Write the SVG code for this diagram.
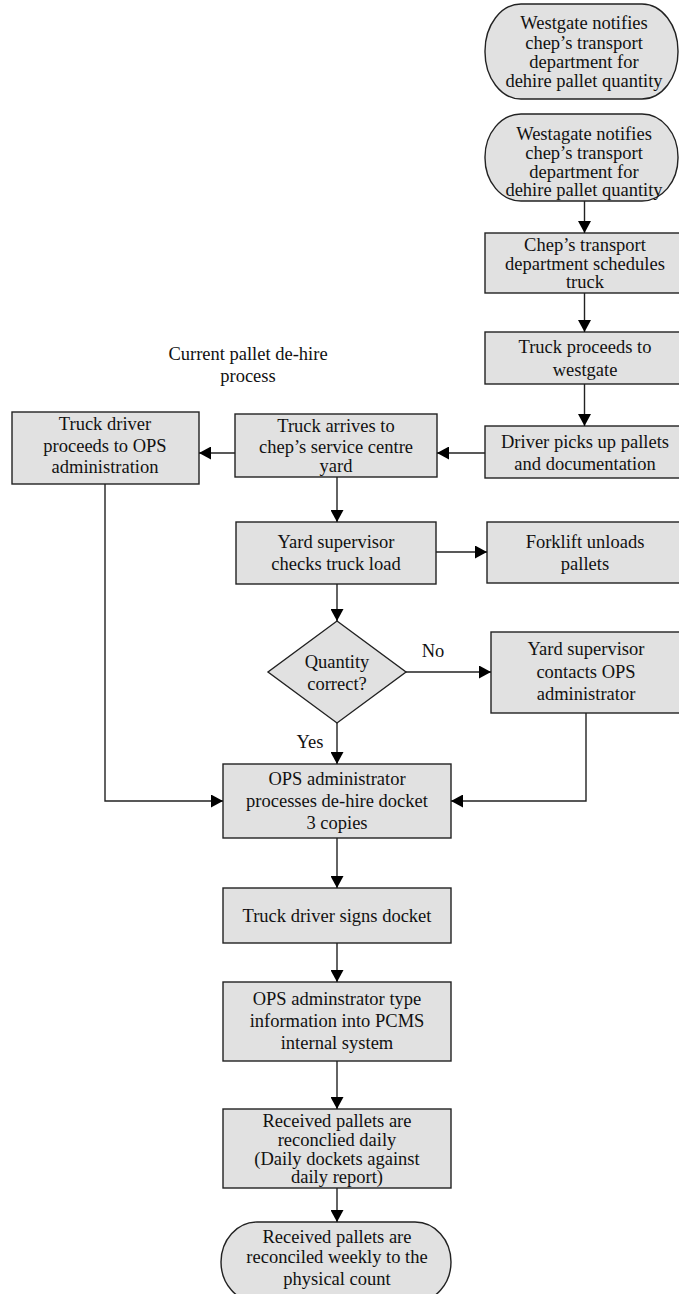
<svg xmlns="http://www.w3.org/2000/svg" width="679" height="1294" viewBox="0 0 679 1294">
<style>
.n{fill:#e1e1e1;stroke:#222;stroke-width:1.4}
.t{font-family:"Liberation Serif","Times New Roman",serif;font-size:18.5px;fill:#111;text-anchor:middle}
.c{fill:none;stroke:#222;stroke-width:1.4}
</style>
<defs>
<marker id="ah" markerWidth="12" markerHeight="13" refX="12" refY="6.5" orient="auto" markerUnits="userSpaceOnUse"><path d="M0,0 L12,6.5 L0,13 z" fill="#000"/></marker>
</defs>
<rect width="679" height="1294" fill="#fff"/>
<text class="t" x="248" y="360">Current pallet de-hire</text>
<text class="t" x="248" y="382">process</text>
<g id="t1"><rect class="n" x="485" y="4" width="193" height="95" rx="36" ry="47"/>
<text class="t" x="584" y="29">Westgate notifies</text><text class="t" x="584" y="49">chep’s transport</text><text class="t" x="584" y="68">department for</text><text class="t" x="584" y="87">dehire pallet quantity</text></g>
<g id="t2"><rect class="n" x="485" y="114" width="193" height="87" rx="36" ry="43"/>
<text class="t" x="584" y="140">Westagate notifies</text><text class="t" x="584" y="159">chep’s transport</text><text class="t" x="584" y="178">department for</text><text class="t" x="584" y="196">dehire pallet quantity</text></g>
<g id="chep"><rect class="n" x="485" y="233" width="199" height="60"/>
<text class="t" x="585" y="251">Chep’s transport</text><text class="t" x="585" y="270">department schedules</text><text class="t" x="585" y="288">truck</text></g>
<g id="proceeds"><rect class="n" x="485" y="332" width="199" height="52"/>
<text class="t" x="585" y="353">Truck proceeds to</text><text class="t" x="585" y="376">westgate</text></g>
<g id="driver"><rect class="n" x="485" y="426" width="199" height="52"/>
<text class="t" x="585" y="448">Driver picks up pallets</text><text class="t" x="585" y="470">and documentation</text></g>
<g id="arrives"><rect class="n" x="235" y="414" width="202" height="63"/>
<text class="t" x="336" y="432">Truck arrives to</text><text class="t" x="336" y="453">chep’s service centre</text><text class="t" x="336" y="472">yard</text></g>
<g id="tdriver"><rect class="n" x="12" y="412" width="187" height="72"/>
<text class="t" x="105" y="430">Truck driver</text><text class="t" x="105" y="452">proceeds to OPS</text><text class="t" x="105" y="473">administration</text></g>
<g id="yardsup"><rect class="n" x="236" y="522" width="200" height="62"/>
<text class="t" x="336" y="548">Yard supervisor</text><text class="t" x="336" y="570">checks truck load</text></g>
<g id="forklift"><rect class="n" x="487" y="522" width="197" height="61"/>
<text class="t" x="585" y="548">Forklift unloads</text><text class="t" x="585" y="570">pallets</text></g>
<g id="decision"><path class="n" d="M337,621 L406,672 L337,723 L268,672 Z"/>
<text class="t" x="337" y="668">Quantity</text><text class="t" x="337" y="690">correct?</text></g>
<g id="contacts"><rect class="n" x="491" y="632" width="193" height="81"/>
<text class="t" x="586" y="655">Yard supervisor</text><text class="t" x="586" y="678">contacts OPS</text><text class="t" x="586" y="700">administrator</text></g>
<g id="ops"><rect class="n" x="223" y="764" width="228" height="74"/>
<text class="t" x="337" y="785">OPS administrator</text><text class="t" x="337" y="807">processes de-hire docket</text><text class="t" x="337" y="829">3 copies</text></g>
<g id="signs"><rect class="n" x="223" y="888" width="228" height="55"/>
<text class="t" x="337" y="922">Truck driver signs docket</text></g>
<g id="type"><rect class="n" x="223" y="982" width="228" height="79"/>
<text class="t" x="337" y="1005">OPS adminstrator type</text><text class="t" x="337" y="1027">information into PCMS</text><text class="t" x="337" y="1049">internal system</text></g>
<g id="daily"><rect class="n" x="223" y="1109" width="228" height="79"/>
<text class="t" x="337" y="1127">Received pallets are</text><text class="t" x="337" y="1146">reconclied daily</text><text class="t" x="337" y="1165">(Daily dockets against</text><text class="t" x="337" y="1183">daily report)</text></g>
<g id="weekly"><rect class="n" x="221" y="1222" width="230" height="80" rx="36" ry="40"/>
<text class="t" x="337" y="1243">Received pallets are</text><text class="t" x="337" y="1263">reconciled weekly to the</text><text class="t" x="337" y="1285">physical count</text></g>
<g id="connectors">
<path class="c" marker-end="url(#ah)" d="M584.5,201 V233"/>
<path class="c" marker-end="url(#ah)" d="M584.5,293 V332"/>
<path class="c" marker-end="url(#ah)" d="M584.5,384 V426"/>
<path class="c" marker-end="url(#ah)" d="M485,453 H437"/>
<path class="c" marker-end="url(#ah)" d="M235,453 H199"/>
<path class="c" marker-end="url(#ah)" d="M337,477 V522"/>
<path class="c" marker-end="url(#ah)" d="M436,552 H487"/>
<path class="c" marker-end="url(#ah)" d="M337,584 V621"/>
<path class="c" marker-end="url(#ah)" d="M406,672 H491"/>
<path class="c" marker-end="url(#ah)" d="M337,723 V764"/>
<path class="c" marker-end="url(#ah)" d="M105,484 V801 H223"/>
<path class="c" marker-end="url(#ah)" d="M586,713 V801 H451"/>
<path class="c" marker-end="url(#ah)" d="M337,838 V888"/>
<path class="c" marker-end="url(#ah)" d="M337,943 V982"/>
<path class="c" marker-end="url(#ah)" d="M337,1061 V1109"/>
<path class="c" marker-end="url(#ah)" d="M337,1188 V1222"/>
<text class="t" x="433" y="657">No</text>
<text class="t" x="310" y="748">Yes</text>
</g>
</svg>
